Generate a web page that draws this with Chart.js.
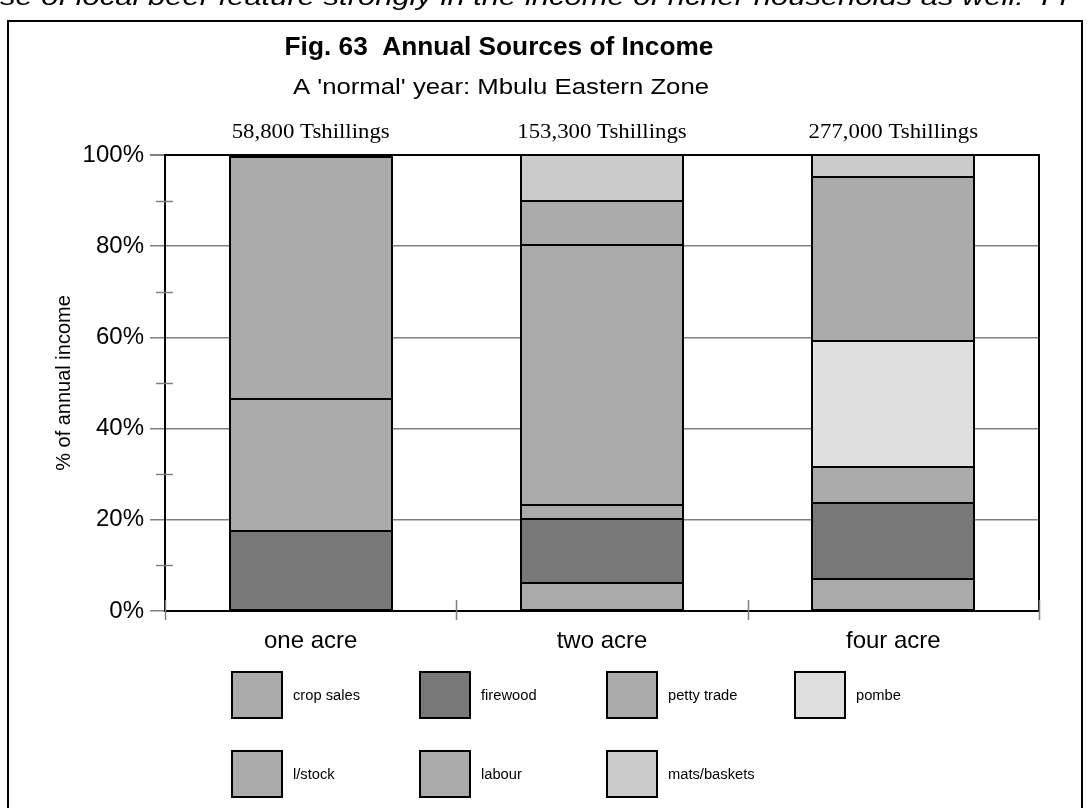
<!DOCTYPE html>
<html>
<head>
<meta charset="utf-8">
<script src="https://cdn.jsdelivr.net/npm/chart.js@4.4.0/dist/chart.umd.min.js"></script>
<style>
  html, body { margin: 0; padding: 0; background: #fff; }
  canvas { display: block; }
</style>
</head>
<body>
<canvas id="chart" width="1089" height="808"></canvas>
<script>
// data (percent of annual income)
const farmSizes = ['one acre', 'two acre', 'four acre'];
const totalIncome = ['58,800 Tshillings', '153,300 Tshillings', '277,000 Tshillings'];
const sourceNames = ['crop sales', 'firewood', 'petty trade', 'pombe', 'l/stock', 'labour', 'mats/baskets'];
const sourceColours = ['#aaaaaa', '#787878', '#aaaaaa', '#dfdfdf', '#aaaaaa', '#aaaaaa', '#cbcbcb'];
const cropSales = [null, 6.1, 7.0];
const firewood = [17.6, 14.1, 16.7];
const pettyTrade = [29.0, 3.0, 7.9];
const pombe = [null, null, 27.7];
const livestock = [52.9, 57.1, 35.9];
const labour = [null, 9.6, null];
const matsBaskets = [0.5, 10.1, 4.8];
const minorTicks = [10, 30, 50, 70, 90];

const seriesValues = [cropSales, firewood, pettyTrade, pombe, livestock, labour, matsBaskets];

const SANS = '"Liberation Sans", Arial, sans-serif';
const SERIF = '"Liberation Serif", "Times New Roman", serif';
const GREY = '#808080';

// text stretched a little horizontally, like the scanned figure
const drawText = (ctx, text, x, y, font, sx, align) => {
    ctx.save();
    ctx.font = font;
    ctx.fillStyle = '#000';
    ctx.textBaseline = 'alphabetic';
    ctx.textAlign = align || 'center';
    ctx.translate(x, y);
    ctx.scale(sx, 1);
    ctx.fillText(text, 0, 0);
    ctx.restore();
};

// crisp black outlines round every bar segment, taken from the bar elements
const outlinePlugin = {
    id: 'outline',
    afterDatasetsDraw(chart) {
        const { ctx } = chart;
        ctx.save();
        ctx.strokeStyle = '#000';
        ctx.lineWidth = 2;
        chart.data.datasets.forEach((ds, di) => {
            chart.getDatasetMeta(di).data.forEach((el, i) => {
                if (ds.data[i] == null) return;
                const l = Math.round(el.x - el.width / 2);
                const r = Math.round(el.x + el.width / 2);
                const t = Math.round(Math.min(el.y, el.base));
                const b = Math.round(Math.max(el.y, el.base));
                ctx.strokeRect(l, t, r - l, b - t);
            });
        });
        ctx.restore();
    }
};

const decorPlugin = {
    id: 'decor',
    afterDraw(chart) {
        const { ctx, chartArea } = chart;
        const xs = chart.scales.x;
        const ys = chart.scales.y;

        // minor ticks on the value axis
        ctx.save();
        ctx.strokeStyle = GREY;
        ctx.lineWidth = 1.5;
        minorTicks.forEach(v => {
            const py = Math.round(ys.getPixelForValue(v)) + 0.5;
            ctx.beginPath();
            ctx.moveTo(chartArea.left - 9, py);
            ctx.lineTo(chartArea.left + 8, py);
            ctx.stroke();
        });

        // category separators crossing the base line
        const bounds = [chartArea.left];
        for (let i = 0; i < farmSizes.length - 1; i++) {
            bounds.push((xs.getPixelForValue(i) + xs.getPixelForValue(i + 1)) / 2);
        }
        bounds.push(chartArea.right);

        // right frame of the plot
        ctx.strokeStyle = '#000';
        ctx.lineWidth = 2;
        ctx.beginPath();
        ctx.moveTo(chartArea.right, chartArea.top - 1);
        ctx.lineTo(chartArea.right, chartArea.bottom);
        ctx.stroke();

        ctx.strokeStyle = GREY;
        ctx.lineWidth = 1.5;
        bounds.forEach(bx => {
            const px = Math.round(bx) + 0.5;
            ctx.beginPath();
            ctx.moveTo(px, chartArea.bottom - 11);
            ctx.lineTo(px, chartArea.bottom + 9);
            ctx.stroke();
        });
        ctx.restore();

        // titles
        drawText(ctx, 'Fig. 63  Annual Sources of Income', 499, 55, 'bold 25px ' + SANS, 1.05);
        drawText(ctx, "A 'normal' year: Mbulu Eastern Zone", 501, 94, '22px ' + SANS, 1.17);
        totalIncome.forEach((t, i) => {
            drawText(ctx, t, xs.getPixelForValue(i), 138, '20px ' + SERIF, 1.14);
        });

        // legend in a 4-column grid
        const colX = [231, 419, 606, 794];
        const rowY = [671, 750];
        chart.data.datasets.forEach((ds, i) => {
            const bx = colX[i % 4];
            const by = rowY[Math.floor(i / 4)];
            ctx.save();
            ctx.fillStyle = ds.backgroundColor;
            ctx.fillRect(bx, by, 52, 48);
            ctx.strokeStyle = '#000';
            ctx.lineWidth = 2;
            ctx.strokeRect(bx + 1, by + 1, 50, 46);
            ctx.restore();
            drawText(ctx, ds.label, bx + 62, by + 29, '14px ' + SANS, 1.05, 'left');
        });

        // page text cut off at the top and the figure frame
        drawText(ctx, 'se of local beer feature strongly in the income of richer households as well.  Fi', 0, 5,
            'italic 24px ' + SANS, 1.29, 'left');
        ctx.save();
        ctx.strokeStyle = '#000';
        ctx.lineWidth = 2;
        ctx.strokeRect(8, 21, 1074, 820);
        ctx.restore();
    }
};

new Chart(document.getElementById('chart'), {
    type: 'bar',
    data: {
        labels: farmSizes,
        datasets: sourceNames.map((name, i) => ({
            label: name,
            data: seriesValues[i],
            backgroundColor: sourceColours[i],
            borderWidth: 0,
            inflateAmount: 0,
            categoryPercentage: 1,
            barPercentage: 0.557
        }))
    },
    options: {
        responsive: false,
        devicePixelRatio: 1,
        animation: false,
        layout: { padding: { left: 0, right: 50, top: 155, bottom: 147 } },
        plugins: {
            legend: { display: false },
            title: { display: false },
            tooltip: { enabled: false }
        },
        scales: {
            x: {
                stacked: true,
                grid: { display: false, drawTicks: false },
                border: { display: true, color: '#000', width: 2 },
                ticks: { color: '#000', padding: 16, font: { family: SANS, size: 24 } },
                afterFit: s => { s.height = 50; }
            },
            y: {
                stacked: true,
                min: 0,
                max: 100,
                ticks: {
                    stepSize: 20,
                    color: '#000',
                    padding: 6,
                    font: { family: SANS, size: 24 },
                    callback: v => v + '%'
                },
                grid: {
                    color: c => (c.tick && (c.tick.value === 100 || c.tick.value === 0)) ? '#000' : GREY,
                    lineWidth: c => (c.tick && c.tick.value === 100) ? 2 : 1.5,
                    tickColor: GREY,
                    tickLength: 15
                },
                border: { display: true, color: '#000', width: 2 },
                title: {
                    display: true,
                    text: '% of annual income',
                    color: '#000',
                    font: { family: SANS, size: 20 },
                    padding: { top: 52, bottom: 0 }
                },
                afterFit: s => { s.width = 165; }
            }
        }
    },
    plugins: [outlinePlugin, decorPlugin]
});
</script>
</body>
</html>
